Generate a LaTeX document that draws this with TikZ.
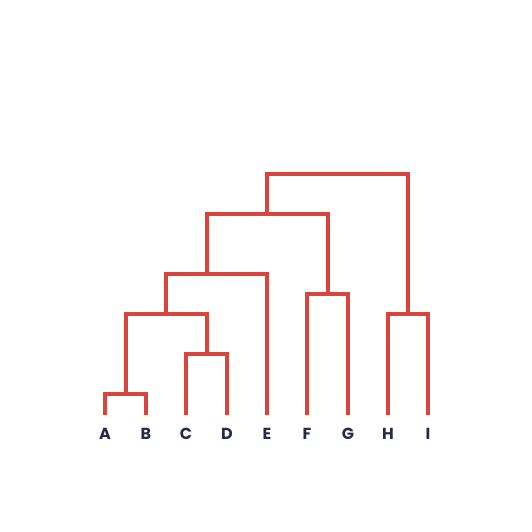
\documentclass[tikz,border=0pt]{standalone}
\usepackage{fontspec}
\newfontfamily\leaffont{Poppins}
\usepackage{xcolor}
\definecolor{TreeRed}{RGB}{216,69,62}
\definecolor{LabelNavy}{RGB}{37,43,72}
\begin{document}
\begin{tikzpicture}[
  x=1pt,y=1pt,
  link/.style={draw=TreeRed,line width=4pt,line cap=rect,line join=miter},
  leaflbl/.style={text=LabelNavy,font=\leaffont\bfseries\fontsize{16}{16}\selectfont,
                  inner sep=0pt,anchor=center},
]
\useasboundingbox (0,0) rectangle (532,532);
% leaves
\foreach \name/\x in {A/105,B/146,C/186,D/227,E/267,F/307,G/348,H/388,I/428}{
  \coordinate (\name) at (\x,119);
  \node[leaflbl] (lbl\name) at (\x,98.5) {\name};
}
% merge points
\coordinate (ab)      at (125.5,138);
\coordinate (cd)      at (206.5,178);
\coordinate (abcd)    at (166,218);
\coordinate (abcde)   at (206.5,258);
\coordinate (fg)      at (327.5,238);
\coordinate (hi)      at (408,218);
\coordinate (abcdefg) at (267,317.5);
\coordinate (root)    at (337.5,357.5);
% branches
\draw[link] (A) |- (ab) -| (B);
\draw[link] (C) |- (cd) -| (D);
\draw[link] (ab) |- (abcd) -| (cd);
\draw[link] (abcd) |- (abcde) -| (E);
\draw[link] (F) |- (fg) -| (G);
\draw[link] (H) |- (hi) -| (I);
\draw[link] (abcde) |- (abcdefg) -| (fg);
\draw[link] (abcdefg) |- (root) -| (hi);
\end{tikzpicture}
\end{document}
